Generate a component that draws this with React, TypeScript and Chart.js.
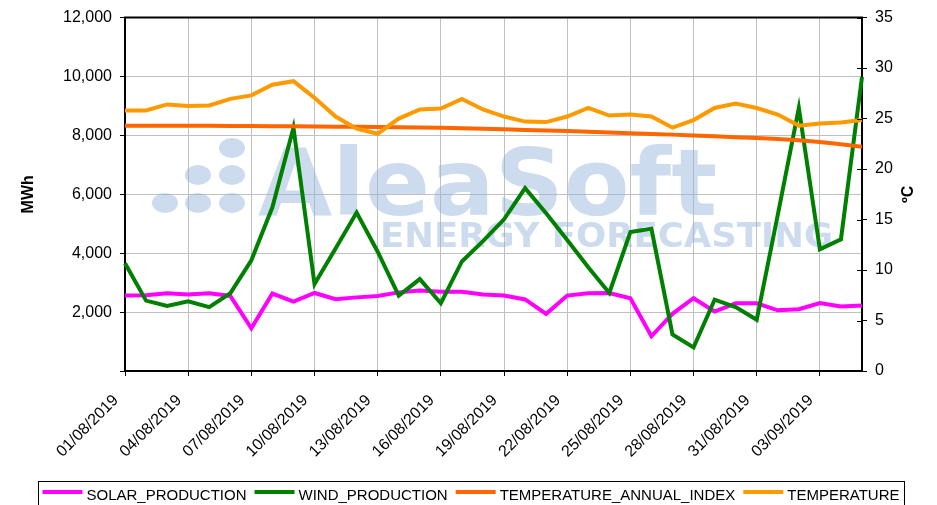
import React, { useEffect, useRef } from "react";
import { Chart, registerables } from "chart.js";

Chart.register(...registerables);

const dates: string[] = [
  "01/08/2019","02/08/2019","03/08/2019","04/08/2019","05/08/2019","06/08/2019",
  "07/08/2019","08/08/2019","09/08/2019","10/08/2019","11/08/2019","12/08/2019",
  "13/08/2019","14/08/2019","15/08/2019","16/08/2019","17/08/2019","18/08/2019",
  "19/08/2019","20/08/2019","21/08/2019","22/08/2019","23/08/2019","24/08/2019",
  "25/08/2019","26/08/2019","27/08/2019","28/08/2019","29/08/2019","30/08/2019",
  "31/08/2019","01/09/2019","02/09/2019","03/09/2019","04/09/2019","05/09/2019",
];

const solarProduction: number[] = [
  2560, 2570, 2640, 2600, 2640, 2550, 1450, 2630, 2360, 2650, 2440, 2500,
  2550, 2670, 2730, 2690, 2690, 2600, 2560, 2430, 1940, 2560, 2640, 2650,
  2470, 1180, 1940, 2470, 2020, 2300, 2300, 2060, 2100, 2310, 2190, 2220,
];

const windProduction: number[] = [
  3660, 2390, 2210, 2370, 2170, 2640, 3760, 5560, 8260, 2950, 4160, 5380,
  4050, 2560, 3120, 2300, 3720, 4410, 5150, 6210, 5360, 4450, 3520, 2650,
  4720, 4830, 1240, 800, 2420, 2170, 1740, 5300, 8930, 4130, 4470, 9980,
];

const temperatureAnnualIndex: number[] = [
  24.3, 24.3, 24.29, 24.28, 24.28, 24.27, 24.26, 24.25, 24.23, 24.22, 24.2, 24.18,
  24.16, 24.14, 24.12, 24.09, 24.05, 24.0, 23.94, 23.88, 23.82, 23.76, 23.69, 23.62,
  23.55, 23.48, 23.41, 23.33, 23.25, 23.16, 23.07, 22.97, 22.85, 22.67, 22.45, 22.2,
];

const temperature: number[] = [
  25.8, 25.8, 26.4, 26.25, 26.3, 26.95, 27.3, 28.35, 28.7, 27.05, 25.2, 24.0,
  23.5, 25.0, 25.9, 26.0, 26.95, 25.9, 25.2, 24.7, 24.65, 25.2, 26.05, 25.3,
  25.4, 25.2, 24.1, 24.85, 26.05, 26.5, 26.05, 25.4, 24.3, 24.5, 24.6, 24.85,
];

const seriesNames: string[] = [
  "SOLAR_PRODUCTION",
  "WIND_PRODUCTION",
  "TEMPERATURE_ANNUAL_INDEX",
  "TEMPERATURE",
];
const seriesColors: string[] = ["#FF00FF", "#008000", "#FF6600", "#FF9900"];

const leftTicksMax = 12000;
const leftStep = 2000;
const rightTicksMax = 35;
const rightStep = 5;

const FONT = '"Liberation Sans", Arial, sans-serif';

const decorPlugin = {
  id: "decor",
  beforeDatasetsDraw(chart: any) {
    const ctx = chart.ctx as CanvasRenderingContext2D;
    ctx.save();
    ctx.fillStyle = "rgba(150,180,220,0.48)";
    const dots = [
      [232, 148],
      [198, 175],
      [232, 175],
      [165, 203],
      [198, 203],
      [232, 203],
    ];
    for (const [x, y] of dots) {
      ctx.beginPath();
      ctx.ellipse(x, y, 13, 10, 0, 0, Math.PI * 2);
      ctx.fill();
    }
    ctx.textBaseline = "alphabetic";
    ctx.textAlign = "left";
    ctx.font = 'bold 92px "DejaVu Sans"';
    let w = ctx.measureText("AleaSoft").width;
    ctx.save();
    ctx.translate(258, 215);
    ctx.scale(459 / w, 1);
    ctx.fillText("AleaSoft", 0, 0);
    ctx.restore();
    ctx.font = 'bold 34px "DejaVu Sans"';
    w = ctx.measureText("ENERGY FORECASTING").width;
    ctx.save();
    ctx.translate(380, 247);
    ctx.scale(453 / w, 1);
    ctx.fillText("ENERGY FORECASTING", 0, 0);
    ctx.restore();
    ctx.restore();
  },
  afterDraw(chart: any) {
    const ctx = chart.ctx as CanvasRenderingContext2D;
    const area = chart.chartArea;
    ctx.save();
    // top frame line
    ctx.strokeStyle = "#000";
    ctx.lineWidth = 2;
    ctx.beginPath();
    ctx.moveTo(area.left - 1, area.top);
    ctx.lineTo(area.right + 1, area.top);
    ctx.stroke();
    // inner tick marks of right axis
    const y1 = chart.scales.y1;
    ctx.lineWidth = 1;
    for (let v = 0; v <= rightTicksMax; v += rightStep) {
      const py = Math.round(y1.getPixelForValue(v)) + 0.5;
      ctx.beginPath();
      ctx.moveTo(area.right - 5, py);
      ctx.lineTo(area.right, py);
      ctx.stroke();
    }
    // right axis title
    ctx.fillStyle = "#000";
    ctx.font = `bold 16px ${FONT}`;
    ctx.textAlign = "center";
    ctx.textBaseline = "middle";
    ctx.save();
    ctx.translate(909, (area.top + area.bottom) / 2);
    ctx.rotate(-Math.PI / 2);
    ctx.fillText("ºC", 0, 0);
    ctx.restore();

    // legend
    ctx.font = `15px ${FONT}`;
    ctx.textAlign = "left";
    ctx.textBaseline = "alphabetic";
    const sample = 40;
    const gapText = 4;
    const gapItem = 8;
    const widths = seriesNames.map((n) => ctx.measureText(n).width);
    const total =
      widths.reduce((a, b) => a + b, 0) + seriesNames.length * (sample + gapText) + (seriesNames.length - 1) * gapItem;
    const boxLeft = 38;
    const boxRight = 904;
    let x = (boxLeft + boxRight) / 2 - total / 2;
    ctx.strokeStyle = "#000";
    ctx.lineWidth = 1;
    ctx.strokeRect(boxLeft + 0.5, 481.5, boxRight - boxLeft, 40);
    seriesNames.forEach((name, i) => {
      ctx.strokeStyle = seriesColors[i];
      ctx.lineWidth = 4;
      ctx.beginPath();
      ctx.moveTo(x, 492);
      ctx.lineTo(x + sample, 492);
      ctx.stroke();
      ctx.fillStyle = "#000";
      ctx.fillText(name, x + sample + gapText, 500);
      x += sample + gapText + widths[i] + gapItem;
    });
    ctx.restore();
  },
};

export default function App() {
  const canvasRef = useRef<HTMLCanvasElement | null>(null);

  useEffect(() => {
    document.body.style.margin = "0";
    const canvas = canvasRef.current;
    if (!canvas) return;
    const mk = (data: number[], i: number, axis: string, order: number) => ({
      label: seriesNames[i],
      data,
      borderColor: seriesColors[i],
      backgroundColor: seriesColors[i],
      borderWidth: 4,
      pointRadius: 0,
      tension: 0,
      yAxisID: axis,
      order,
    });
    const chart = new Chart(canvas, {
      type: "line",
      data: {
        labels: dates,
        datasets: [
          mk(solarProduction, 0, "y", 4),
          mk(windProduction, 1, "y", 3),
          mk(temperatureAnnualIndex, 2, "y1", 2),
          mk(temperature, 3, "y1", 1),
        ],
      },
      options: {
        responsive: false,
        animation: false,
        devicePixelRatio: 1,
        layout: { padding: { top: 15, left: 0, right: 0, bottom: 0 } },
        plugins: {
          legend: { display: false },
          tooltip: { enabled: false },
        },
        scales: {
          x: {
            type: "category",
            position: "bottom",
            offset: false,
            afterFit: (s: any) => {
              s.height = 134;
            },
            grid: {
              offset: false,
              color: (c: any) => (c.index % 3 === 0 ? "#C0C0C0" : "rgba(0,0,0,0)"),
              tickColor: (c: any) => (c.index % 3 === 0 ? "#000" : "rgba(0,0,0,0)"),
              tickLength: 5,
              lineWidth: 1,
            },
            border: { color: "#000", width: 2 },
            ticks: {
              autoSkip: false,
              maxRotation: 45,
              minRotation: 45,
              padding: 15,
              labelOffset: -9,
              color: "#000",
              font: { family: FONT, size: 16 },
              callback: (_v: any, idx: number) => (idx % 3 === 0 ? dates[idx] : ""),
            },
          },
          y: {
            position: "left",
            min: 0,
            max: leftTicksMax,
            afterFit: (s: any) => {
              s.width = 125;
            },
            grid: {
              color: (c: any) =>
                c.tick && (c.tick.value === 0 || c.tick.value === leftTicksMax) ? "rgba(0,0,0,0)" : "#C0C0C0",
              tickColor: "#000",
              tickLength: 5,
              lineWidth: 1,
            },
            border: { color: "#000", width: 2 },
            ticks: {
              stepSize: leftStep,
              padding: 8,
              color: "#000",
              font: { family: FONT, size: 16 },
              callback: (v: any) => (v === 0 ? "" : Number(v).toLocaleString("en-US")),
            },
            title: {
              display: true,
              text: "MWh",
              color: "#000",
              font: { family: FONT, size: 16, weight: "bold" },
              padding: { top: 19, bottom: 0 },
            },
          },
          y1: {
            position: "right",
            min: 0,
            max: rightTicksMax,
            afterFit: (s: any) => {
              s.width = 75;
            },
            grid: {
              drawOnChartArea: false,
              tickColor: "#000",
              tickLength: 5,
              lineWidth: 1,
            },
            border: { color: "#000", width: 2 },
            ticks: {
              stepSize: rightStep,
              padding: 8,
              color: "#000",
              font: { family: FONT, size: 16 },
            },
          },
        },
      },
      plugins: [decorPlugin],
    } as any);
    return () => chart.destroy();
  }, []);

  return (
    <div style={{ width: 937, height: 505 }}>
      <canvas ref={canvasRef} width={937} height={505} style={{ display: "block" }} />
    </div>
  );
}
